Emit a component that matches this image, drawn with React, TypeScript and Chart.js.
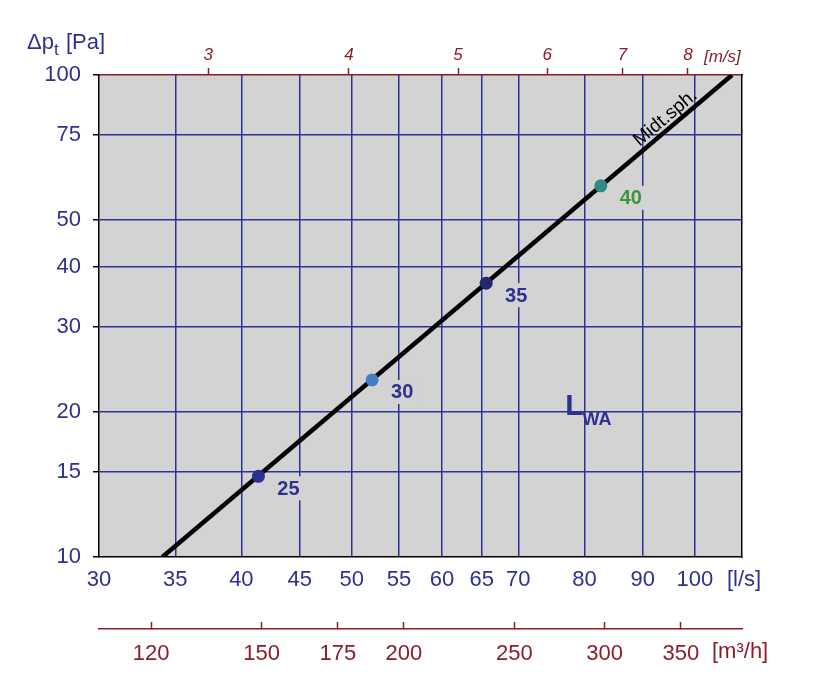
import React, { useEffect, useRef } from 'react';
import { Chart, registerables } from 'chart.js';

Chart.register(...registerables);

const FONT = '"Liberation Sans", Arial, sans-serif';
const BLUE = '#2E3192';
const GRID = '#2B3494';
const RED = '#8B1E2A';
const BG = '#D3D3D3';
const CLEAR = 'rgba(0,0,0,0)';

// Axis ticks
const flowTicks = [30, 35, 40, 45, 50, 55, 60, 65, 70, 80, 90, 100];
const pressureTicks = [10, 15, 20, 30, 40, 50, 75, 100];
const velocityTicks = [3, 4, 5, 6, 7, 8];
const m3hTicks = [120, 150, 175, 200, 250, 300, 350];
const flowMin = 30;
const flowMax = 110;
const pressureMin = 10;
const pressureMax = 100;
const lsPerMs = 12.31; // l/s per 1 m/s
const m3hPerLs = 3.6;

// Characteristic line
const lineFlow = [34.1, 107.8];
const linePressure = [10, 100];
const lineName = 'Midt.sph.';

// Sound level points
const pointNames = ['25', '30', '35', '40'];
const pointFlow = [41.4, 52.1, 65.6, 82.7];
const pointPressure = [14.7, 23.3, 37.0, 58.9];
const pointColors = ['#2B3190', '#4A7BC8', '#24266E', '#2E8A84'];
const pointLabelColors = [BLUE, BLUE, BLUE, '#3A963A'];

const fixedTicks = (vals: number[]) => (scale: any) => {
  scale.ticks = vals.map((v) => ({ value: v }));
};

const decor = {
  id: 'decor',
  beforeDraw(chart: any) {
    const { ctx, chartArea: a } = chart;
    ctx.save();
    ctx.fillStyle = BG;
    ctx.fillRect(a.left, a.top, a.right - a.left, a.bottom - a.top);
    ctx.restore();
  },
  afterDatasetsDraw(chart: any) {
    const { ctx } = chart;
    const xs = chart.scales.x;
    const ys = chart.scales.y;
    ctx.save();
    // point labels
    ctx.font = `bold 20px ${FONT}`;
    ctx.textAlign = 'center';
    ctx.textBaseline = 'middle';
    pointNames.forEach((name, i) => {
      const px = xs.getPixelForValue(pointFlow[i]) + 30;
      const py = ys.getPixelForValue(pointPressure[i]) + 12;
      const w = ctx.measureText(name).width + 8;
      ctx.fillStyle = BG;
      ctx.fillRect(px - w / 2, py - 12, w, 24);
      ctx.fillStyle = pointLabelColors[i];
      ctx.fillText(name, px, py + 1);
    });
    // line name
    const x0 = xs.getPixelForValue(lineFlow[0]);
    const y0 = ys.getPixelForValue(linePressure[0]);
    const x1 = xs.getPixelForValue(lineFlow[1]);
    const y1 = ys.getPixelForValue(linePressure[1]);
    const ang = Math.atan2(y1 - y0, x1 - x0);
    const t = 0.895;
    ctx.save();
    ctx.translate(x0 + t * (x1 - x0), y0 + t * (y1 - y0));
    ctx.rotate(ang);
    ctx.font = `19px ${FONT}`;
    ctx.fillStyle = '#000';
    ctx.textAlign = 'center';
    ctx.textBaseline = 'alphabetic';
    ctx.fillText(lineName, 0, -5);
    ctx.restore();
    // L_WA
    const lx = xs.getPixelForValue(77.1);
    const ly = ys.getPixelForValue(19.7);
    ctx.fillStyle = BLUE;
    ctx.textAlign = 'left';
    ctx.textBaseline = 'alphabetic';
    ctx.font = `bold 30px ${FONT}`;
    ctx.fillText('L', lx - 1, ly);
    const lw = ctx.measureText('L').width;
    ctx.font = `bold 18px ${FONT}`;
    ctx.fillText('WA', lx - 1 + lw - 1, ly + 10);
    ctx.restore();
  },
  afterDraw(chart: any) {
    const { ctx, chartArea: a } = chart;
    ctx.save();
    ctx.textBaseline = 'middle';
    ctx.textAlign = 'left';
    // unit labels
    ctx.fillStyle = BLUE;
    ctx.font = `22px ${FONT}`;
    ctx.fillText('[l/s]', a.right - 15, 580);
    ctx.fillStyle = RED;
    ctx.fillText('[m\u00B3/h]', a.right - 30, 652);
    ctx.font = `italic 17px ${FONT}`;
    ctx.fillText('[m/s]', a.right - 38, 57);
    // y title
    ctx.textBaseline = 'alphabetic';
    ctx.fillStyle = BLUE;
    ctx.font = `22px ${FONT}`;
    ctx.fillText('\u0394p', 27, 49);
    const w = ctx.measureText('\u0394p').width;
    ctx.font = `17px ${FONT}`;
    ctx.fillText('t', 27 + w, 55);
    ctx.font = `22px ${FONT}`;
    ctx.fillText('[Pa]', 66, 49);
    ctx.restore();
  },
};

export default function App() {
  const ref = useRef<HTMLCanvasElement | null>(null);

  useEffect(() => {
    if (!ref.current) return;
    const chart = new Chart(ref.current, {
      type: 'scatter',
      data: {
        datasets: [
          {
            type: 'line',
            label: lineName,
            data: lineFlow.map((q, i) => ({ x: q, y: linePressure[i] })),
            borderColor: '#000',
            borderWidth: 4.5,
            pointRadius: 0,
            showLine: true,
            fill: false,
            order: 2,
            xAxisID: 'x',
            yAxisID: 'y',
          } as any,
          {
            label: 'LWA',
            data: pointFlow.map((q, i) => ({ x: q, y: pointPressure[i] })),
            pointBackgroundColor: pointColors,
            pointBorderWidth: 0,
            pointRadius: 6.5,
            showLine: false,
            order: 1,
            xAxisID: 'x',
            yAxisID: 'y',
          },
        ],
      },
      options: {
        animation: false,
        responsive: false,
        devicePixelRatio: 1,
        layout: { padding: { left: 0, right: 94, top: 0, bottom: 0 } },
        plugins: { legend: { display: false }, tooltip: { enabled: false } },
        scales: {
          x: {
            type: 'logarithmic',
            position: 'bottom',
            weight: 0,
            min: flowMin,
            max: flowMax,
            afterBuildTicks: fixedTicks(flowTicks),
            afterFit: (s: any) => { s.height = 72; },
            grid: {
              color: (c: any) => (c.tick && c.tick.value === flowMin ? CLEAR : GRID),
              lineWidth: 1.5,
              drawTicks: false,
            },
            border: { display: true, color: '#000', width: 1.5 },
            ticks: {
              autoSkip: false, maxRotation: 0, minRotation: 0, padding: 10,
              color: BLUE, font: { family: FONT, size: 22 },
              callback: (v: any) => String(v),
            },
          },
          xm3: {
            type: 'logarithmic',
            position: 'bottom',
            weight: 1,
            min: flowMin * m3hPerLs,
            max: flowMax * m3hPerLs,
            afterBuildTicks: fixedTicks(m3hTicks),
            afterFit: (s: any) => { s.height = 46; },
            grid: { drawOnChartArea: false, drawTicks: true, tickLength: -7, tickColor: RED, tickWidth: 1.5 },
            border: { display: true, color: RED, width: 1.5 },
            ticks: {
              autoSkip: false, maxRotation: 0, minRotation: 0, padding: 19,
              color: RED, font: { family: FONT, size: 22 },
              callback: (v: any) => String(v),
            },
          },
          xTop: {
            type: 'logarithmic',
            position: 'top',
            min: flowMin / lsPerMs,
            max: flowMax / lsPerMs,
            afterBuildTicks: fixedTicks(velocityTicks),
            afterFit: (s: any) => { s.height = 75; },
            grid: { drawOnChartArea: false, drawTicks: true, tickLength: 7, tickColor: RED, tickWidth: 1.5 },
            border: { display: true, color: RED, width: 1.5 },
            ticks: {
              autoSkip: false, maxRotation: 0, minRotation: 0, padding: 3,
              color: RED, font: { family: FONT, size: 17, style: 'italic' },
              callback: (v: any) => String(v),
            },
          },
          y: {
            type: 'logarithmic',
            position: 'left',
            min: pressureMin,
            max: pressureMax,
            afterBuildTicks: fixedTicks(pressureTicks),
            afterFit: (s: any) => { s.width = 99; },
            grid: {
              color: (c: any) => (c.tick && (c.tick.value === pressureMin || c.tick.value === pressureMax) ? CLEAR : GRID),
              lineWidth: 1.5,
              drawTicks: true,
              tickLength: 6,
              tickColor: '#000',
              tickWidth: 1.5,
            },
            border: { display: true, color: '#000', width: 1.5 },
            ticks: {
              autoSkip: false, padding: 12,
              color: BLUE, font: { family: FONT, size: 22 },
              callback: (v: any) => String(v),
            },
          },
          yRight: {
            type: 'logarithmic',
            position: 'right',
            min: pressureMin,
            max: pressureMax,
            afterFit: (s: any) => { s.width = 0; },
            ticks: { display: false },
            grid: { drawOnChartArea: false, drawTicks: false },
            border: { display: true, color: '#000', width: 1.5 },
          },
        },
      } as any,
      plugins: [decor],
    });
    return () => chart.destroy();
  }, []);

  return (
    <div style={{ position: 'absolute', left: 0, top: 0, width: 836, height: 675, background: '#fff' }}>
      <canvas ref={ref} width={836} height={675} style={{ display: 'block' }} />
    </div>
  );
}
